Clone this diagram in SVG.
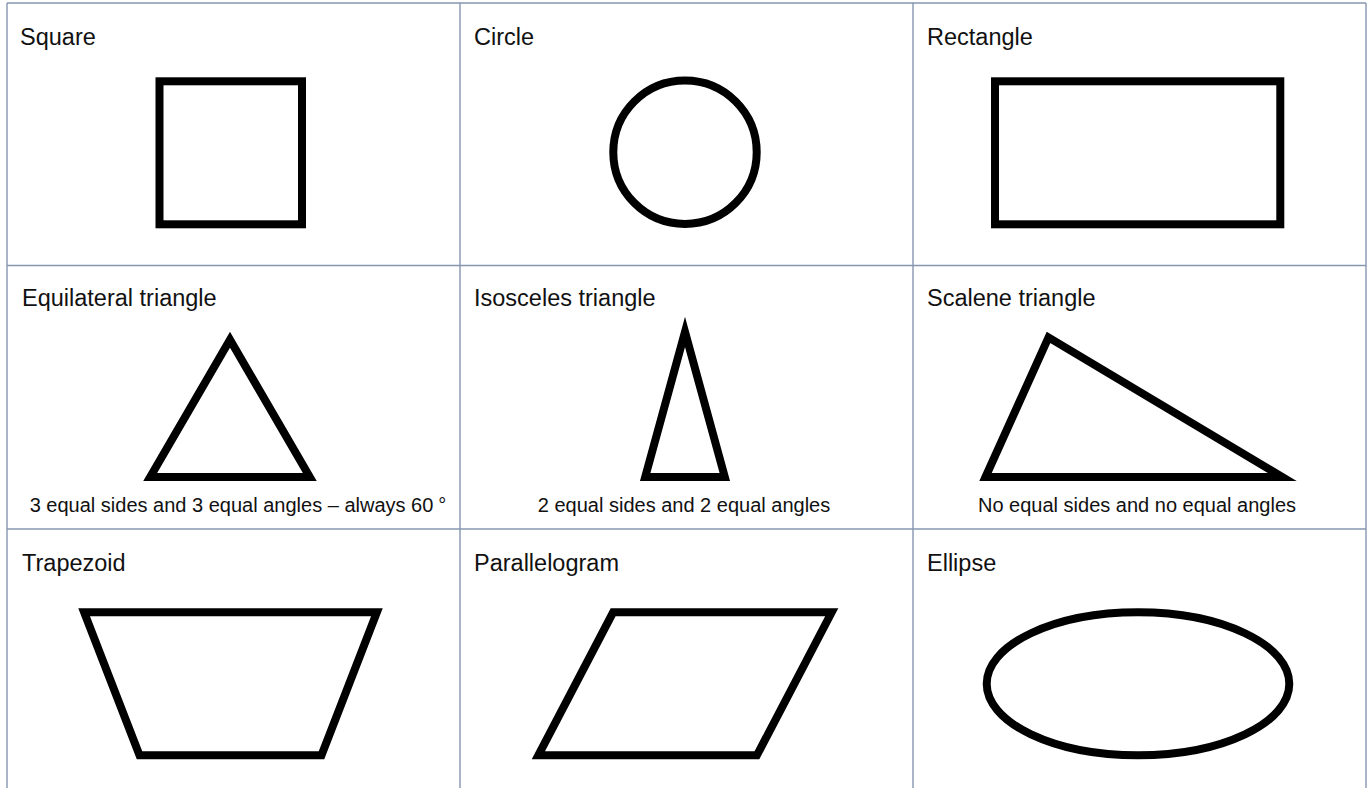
<svg xmlns="http://www.w3.org/2000/svg" width="1368" height="788" viewBox="0 0 1368 788">
<style>
.grid{stroke:#8697b0;stroke-width:1.4;fill:none}
.shape{fill:none;stroke:#000;stroke-width:8;stroke-miterlimit:10;stroke-linejoin:miter}
.title{font-family:"Liberation Sans",Arial,sans-serif;font-size:23.5px;fill:#111}
.cap{font-family:"Liberation Sans",Arial,sans-serif;font-size:20px;fill:#111;text-anchor:middle}
</style>
<rect width="1368" height="788" fill="#fff"/>
<g id="grid">
<line class="grid" x1="7" y1="3" x2="1366" y2="3"/>
<line class="grid" x1="7" y1="265.5" x2="1366" y2="265.5"/>
<line class="grid" x1="7" y1="529" x2="1366" y2="529"/>
<line class="grid" x1="7" y1="3" x2="7" y2="788"/>
<line class="grid" x1="460" y1="3" x2="460" y2="788"/>
<line class="grid" x1="913" y1="3" x2="913" y2="788"/>
<line class="grid" x1="1366" y1="3" x2="1366" y2="788"/>
</g>
<g id="square">
<text class="title" x="20" y="45">Square</text>
<rect class="shape" x="159.5" y="81.3" width="142.5" height="143"/>
</g>
<g id="circle">
<text class="title" x="474" y="45">Circle</text>
<circle class="shape" cx="685" cy="152.2" r="71.7"/>
</g>
<g id="rectangle">
<text class="title" x="927" y="45">Rectangle</text>
<rect class="shape" x="995" y="81.3" width="285.3" height="143"/>
</g>
<g id="equilateral">
<text class="title" x="22" y="306">Equilateral triangle</text>
<polygon class="shape" points="150.2,477 309.8,477 230,339.7"/>
<text class="cap" x="238" y="512">3 equal sides and 3 equal angles – always 60<tspan dx="5">°</tspan></text>
</g>
<g id="isosceles">
<text class="title" x="474" y="306">Isosceles triangle</text>
<polygon class="shape" points="645.2,477 724.8,477 685,331.9"/>
<text class="cap" x="684" y="512">2 equal sides and 2 equal angles</text>
</g>
<g id="scalene">
<text class="title" x="927" y="306">Scalene triangle</text>
<polygon class="shape" points="985.5,477 1048.5,337.4 1282.2,477"/>
<text class="cap" x="1137" y="512">No equal sides and no equal angles</text>
</g>
<g id="trapezoid">
<text class="title" x="22" y="571">Trapezoid</text>
<polygon class="shape" points="84.1,612.3 376.9,612.3 321.5,755.3 139.5,755.3"/>
</g>
<g id="parallelogram">
<text class="title" x="474" y="571">Parallelogram</text>
<polygon class="shape" points="613.1,612.3 831.7,612.3 756.9,755.3 538.3,755.3"/>
</g>
<g id="ellipse">
<text class="title" x="927" y="571">Ellipse</text>
<ellipse class="shape" cx="1138" cy="683.8" rx="151.3" ry="71.5"/>
</g>
</svg>
